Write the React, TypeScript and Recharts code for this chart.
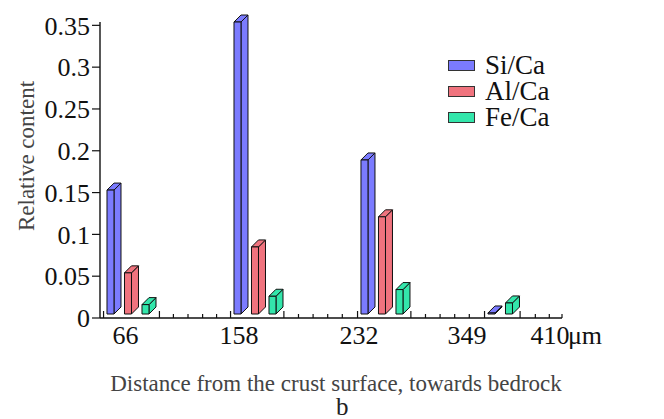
import React from 'react';
import { BarChart, Bar, XAxis, YAxis, Legend, Label } from 'recharts';

// ---- data ----
const categories = ['66', '158', '232', '349'];
const groupIndex = [0, 1, 2, 3];
const siCa = [0.153, 0.354, 0.189, 0.006];
const alCa = [0.054, 0.085, 0.121, 0];
const feCa = [0.016, 0.026, 0.034, 0.018];

const xTickLabels = ['66', '158', '232', '349', '410'];
const xTickLabelAt = [-0.047, 0.846, 1.791, 2.642, 3.295];
const yTicks = [0, 0.05, 0.1, 0.15, 0.2, 0.25, 0.3, 0.35];
const yTickLabels = ['0', '0.05', '0.1', '0.15', '0.2', '0.25', '0.3', '0.35'];
const majorTicks = [-0.22, 0.22, 0.78, 1.2, 1.78, 2.2, 2.78, 3.06];
const minorTicks = [0.33, 0.445, 0.56, 0.67, 1.315, 1.43, 1.545, 1.66, 2.315, 2.43, 2.545, 2.66, 3.18, 3.29, 3.39];
const xDomain: [number, number] = [-0.248, 3.39];

const seriesNames = ['Si/Ca', 'Al/Ca', 'Fe/Ca'];
const seriesKeys = ['si', 'al', 'fe'];
const seriesColors = ['#7b7bff', '#f0737e', '#33e6ab'];

const data = categories.map((c, i) => ({
  cat: c,
  pos: groupIndex[i],
  si: siCa[i],
  al: alCa[i],
  fe: feCa[i],
}));

const SERIF = "'Liberation Serif', 'Times New Roman', serif";
const BAR_SIZE = 14;
const BAR_GAP = 3.5;

// 3D box; when the series just before it is empty in this group, it slides into that slot
const Bar3D = (props: any) => {
  const { y, width, height, fill, payload, prevKey } = props;
  let { x } = props;
  if (!height || height <= 0) return null;
  if (prevKey && payload && payload[prevKey] === 0) x -= width + BAR_GAP;
  const d = 7;
  const fw = width - d;
  const bottom = y + height - 4;
  const top = Math.min(y, bottom - 1);
  return (
    <g stroke="#111" strokeWidth={1} strokeLinejoin="round">
      <polygon
        points={`${x + fw},${top} ${x + fw + d},${top - d} ${x + fw + d},${bottom - d} ${x + fw},${bottom}`}
        fill={fill}
      />
      <polygon
        points={`${x},${top} ${x + d},${top - d} ${x + fw + d},${top - d} ${x + fw},${top}`}
        fill={fill}
      />
      <rect x={x} y={top} width={fw} height={bottom - top} fill={fill} />
    </g>
  );
};

const XTick = (props: any) => {
  const { x, y, payload } = props;
  const v = payload.value;
  const li = xTickLabelAt.indexOf(v);
  if (li >= 0) {
    const last = li === xTickLabels.length - 1;
    return (
      <g>
        <text x={x} y={y + 26} textAnchor="middle" fontFamily={SERIF} fontSize={26} fill="#111">
          {xTickLabels[li]}
        </text>
        {last && (
          <text x={x + 18} y={y + 26} textAnchor="start" fontFamily={SERIF} fontSize={26} fill="#111">
            μm
          </text>
        )}
      </g>
    );
  }
  const len = majorTicks.includes(v) ? 7 : 4;
  return <line x1={x} x2={x} y1={y} y2={y - len} stroke="#111" strokeWidth={1.2} />;
};

const renderLegend = (p: any) => {
  const items = [...(p.payload || [])].sort(
    (a: any, b: any) => seriesNames.indexOf(a.value) - seriesNames.indexOf(b.value)
  );
  return (
    <div style={{ fontFamily: SERIF, fontSize: 27, color: '#111' }}>
      {items.map((e: any) => (
        <div key={e.value} style={{ display: 'flex', alignItems: 'center', height: 26 }}>
          <span
            style={{
              display: 'inline-block',
              width: 27,
              height: 11,
              background: e.color,
              border: '1.5px solid #333',
              boxSizing: 'border-box',
              marginRight: 10,
            }}
          />
          <span style={{ lineHeight: '24px' }}>{e.value}</span>
        </div>
      ))}
    </div>
  );
};

export default function App() {
  return (
    <div style={{ position: 'absolute', left: 0, top: 0, width: 664, height: 419, background: '#fff' }}>
      <BarChart
        width={664}
        height={419}
        data={data}
        margin={{ top: 22, right: 102, left: 0, bottom: 100 }}
        barSize={BAR_SIZE}
        barGap={BAR_GAP}
      >
        <XAxis
          dataKey="pos"
          type="number"
          domain={xDomain}
          ticks={[...majorTicks, ...minorTicks, ...xTickLabelAt].sort((a, b) => a - b)}
          interval={0}
          height={1}
          tickSize={0}
          tickMargin={0}
          tickLine={false}
          tick={<XTick />}
          axisLine={{ stroke: '#111', strokeWidth: 1.4 }}
        >
          <Label
            content={(lp: any) => {
              const vb = lp.viewBox || {};
              return (
                <text
                  x={vb.x + vb.width / 2 + 5}
                  y={vb.y + 73}
                  textAnchor="middle"
                  fontFamily={SERIF}
                  fontSize={23}
                  fill="#444"
                >
                  Distance from the crust surface, towards bedrock
                </text>
              );
            }}
          />
        </XAxis>
        <YAxis
          type="number"
          domain={[0, 'dataMax']}
          ticks={yTicks}
          interval={0}
          width={100}
          tickSize={8}
          tickMargin={2}
          tickFormatter={(v: number) => yTickLabels[yTicks.indexOf(v)] ?? String(v)}
          tick={{ fontFamily: SERIF, fontSize: 26, fill: '#111' }}
          tickLine={{ stroke: '#111', strokeWidth: 1.2 }}
          axisLine={{ stroke: '#111', strokeWidth: 1.4 }}
        >
          <Label
            content={(lp: any) => {
              const vb = lp.viewBox || {};
              const cx = vb.x + 26;
              const cy = vb.y + vb.height / 2 - 14;
              return (
                <text
                  x={cx}
                  y={cy}
                  transform={`rotate(-90, ${cx}, ${cy})`}
                  textAnchor="middle"
                  dominantBaseline="central"
                  fontFamily={SERIF}
                  fontSize={23}
                  fill="#444"
                >
                  Relative content
                </text>
              );
            }}
          />
        </YAxis>
        <Legend
          layout="vertical"
          align="center"
          verticalAlign="middle"
          wrapperStyle={{ left: 448, top: 52, width: 140 }}
          content={renderLegend}
        />
        {seriesKeys.map((k, i) => (
          <Bar
            key={k}
            dataKey={k}
            name={seriesNames[i]}
            fill={seriesColors[i]}
            shape={<Bar3D prevKey={i > 0 ? seriesKeys[i - 1] : undefined} />}
            isAnimationActive={false}
          />
        ))}
      </BarChart>
      <div
        style={{
          position: 'absolute',
          left: 336,
          top: 392,
          fontFamily: SERIF,
          fontSize: 25,
          lineHeight: '30px',
          color: '#222',
        }}
      >
        b
      </div>
    </div>
  );
}
